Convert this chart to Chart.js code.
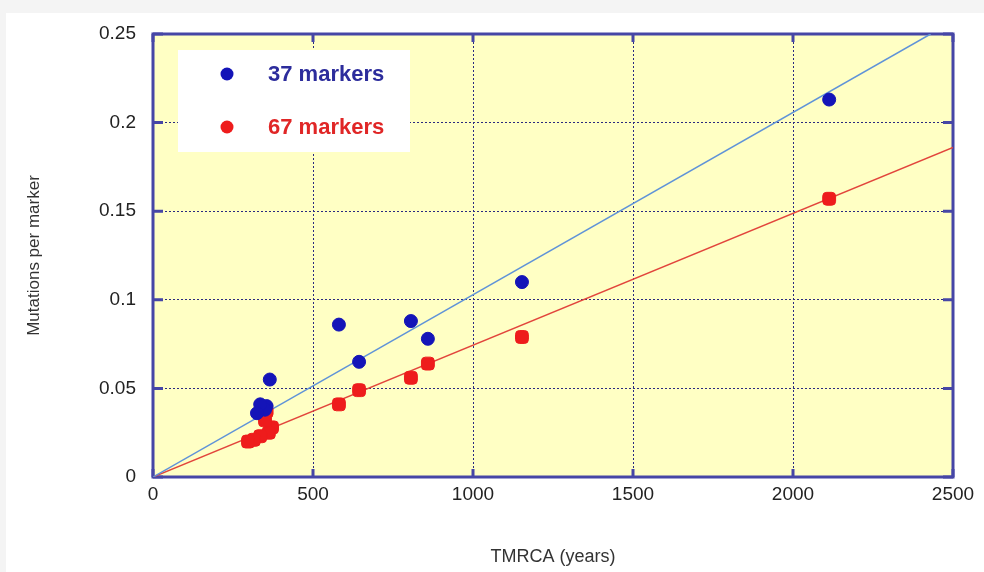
<!DOCTYPE html>
<html>
<head>
<meta charset="utf-8">
<script src="https://cdn.jsdelivr.net/npm/chart.js@4"></script>
<style>
  html, body { margin: 0; padding: 0; background: #ffffff; }
  #wrap { width: 984px; height: 572px; }
</style>
</head>
<body>
<div id="wrap"><canvas id="grafico" width="984" height="572"></canvas></div>
<script>
// values
const x37 = [2113, 1153, 859, 806, 644, 581, 365, 355, 350, 335, 325];
const y37 = [0.213, 0.110, 0.078, 0.088, 0.065, 0.086, 0.055, 0.040, 0.038, 0.041, 0.036];
const x67 = [2113, 1153, 859, 806, 644, 581, 372, 362, 355, 350, 335, 315, 297];
const y67 = [0.157, 0.079, 0.064, 0.056, 0.049, 0.041, 0.028, 0.025, 0.037, 0.032, 0.023, 0.021, 0.020];

// fitted lines (end points)
const fit37X = [0, 2430];
const fit37Y = [0, 0.25];
const fit67X = [0, 2500];
const fit67Y = [0, 0.186];

const xTicks = [0, 500, 1000, 1500, 2000, 2500];
const yTicks = [0, 0.05, 0.1, 0.15, 0.2, 0.25];

const legendLabels = ['37 markers', '67 markers'];

const azul = '#1414b8';
const vermelho = '#ee1c1c';
const moldura = '#4646a6';

function pares(xs, ys) {
  return xs.map((x, i) => ({ x: x, y: ys[i] }));
}

const fundo = {
  id: 'fundo',
  beforeDraw: (chart) => {
    const { ctx, chartArea } = chart;
    ctx.save();
    ctx.fillStyle = '#f4f4f4';
    ctx.fillRect(0, 0, chart.width, chart.height);
    ctx.fillStyle = '#ffffff';
    ctx.fillRect(6, 13, chart.width - 6, chart.height - 13);
    ctx.fillStyle = '#ffffc4';
    ctx.fillRect(chartArea.left, chartArea.top, chartArea.right - chartArea.left, chartArea.bottom - chartArea.top);
    ctx.restore();
  }
};

const moldura_plugin = {
  id: 'moldura',
  beforeDatasetsDraw: (chart) => {
    const { ctx, chartArea, scales } = chart;
    ctx.save();
    ctx.strokeStyle = moldura;
    ctx.lineWidth = 3;
    // inner ticks
    yTicks.forEach(v => {
      const py = scales.y.getPixelForValue(v);
      ctx.beginPath();
      ctx.moveTo(chartArea.left, py); ctx.lineTo(chartArea.left + 10, py);
      ctx.moveTo(chartArea.right, py); ctx.lineTo(chartArea.right - 10, py);
      ctx.stroke();
    });
    xTicks.forEach(v => {
      const px = scales.x.getPixelForValue(v);
      ctx.beginPath();
      ctx.moveTo(px, chartArea.top); ctx.lineTo(px, chartArea.top + 8);
      ctx.moveTo(px, chartArea.bottom); ctx.lineTo(px, chartArea.bottom - 8);
      ctx.stroke();
    });
    ctx.strokeRect(chartArea.left, chartArea.top, chartArea.right - chartArea.left, chartArea.bottom - chartArea.top);
    ctx.restore();
  }
};

const legenda = {
  id: 'legenda',
  afterDraw: (chart) => {
    const { ctx, chartArea } = chart;
    const x0 = chartArea.left + 25, y0 = chartArea.top + 16;
    ctx.save();
    ctx.fillStyle = '#ffffff';
    ctx.fillRect(x0, y0, 232, 102);
    ctx.font = 'bold 22px "Liberation Sans", Arial, sans-serif';
    ctx.textBaseline = 'middle';
    const cores = [azul, vermelho];
    const textos = ['#2c2c9c', '#e02626'];
    legendLabels.forEach((t, i) => {
      const cy = y0 + 24 + i * 53;
      ctx.fillStyle = cores[i];
      ctx.beginPath();
      ctx.arc(x0 + 49, cy, 6.5, 0, Math.PI * 2);
      ctx.fill();
      ctx.fillStyle = textos[i];
      ctx.fillText(t, x0 + 90, cy + 1);
    });
    ctx.restore();
  }
};

const fonte = { family: '"Liberation Sans", Arial, sans-serif', size: 19 };

const myChart = new Chart(document.getElementById('grafico'), {
  type: 'scatter',
  data: {
    datasets: [
      {
        label: legendLabels[0],
        data: pares(x37, y37),
        backgroundColor: azul,
        borderColor: azul,
        pointStyle: 'circle',
        pointRadius: 6.5,
        order: 1
      },
      {
        label: legendLabels[1],
        data: pares(x67, y67),
        backgroundColor: vermelho,
        borderColor: vermelho,
        pointStyle: 'rectRounded',
        pointRadius: 7.5,
        order: 2
      },
      {
        type: 'line',
        label: 'fit 37',
        data: pares(fit37X, fit37Y),
        borderColor: '#5f93d8',
        borderWidth: 1.5,
        pointRadius: 0,
        fill: false,
        order: 3
      },
      {
        type: 'line',
        label: 'fit 67',
        data: pares(fit67X, fit67Y),
        borderColor: '#e2453c',
        borderWidth: 1.5,
        pointRadius: 0,
        fill: false,
        order: 4
      }
    ]
  },
  options: {
    responsive: false,
    animation: false,
    layout: { padding: { top: 34, right: 31, left: 0, bottom: 0 } },
    plugins: {
      legend: { display: false },
      tooltip: { enabled: false }
    },
    scales: {
      x: {
        type: 'linear',
        min: 0,
        max: 2500,
        afterBuildTicks: (s) => { s.ticks = xTicks.map(v => ({ value: v })); },
        afterFit: (s) => { s.height = 95; },
        grid: { color: '#2a2a80', lineWidth: 1, drawTicks: false },
        border: { display: false, dash: [2, 2] },
        ticks: {
          color: '#222222',
          font: fonte,
          padding: 6,
          callback: (v) => String(v)
        },
        title: {
          display: true,
          text: 'TMRCA (years)',
          color: '#333333',
          font: { family: fonte.family, size: 18 },
          padding: { top: 26 }
        }
      },
      y: {
        type: 'linear',
        min: 0,
        max: 0.25,
        afterBuildTicks: (s) => { s.ticks = yTicks.map(v => ({ value: v })); },
        afterFit: (s) => { s.width = 153; },
        grid: { color: '#2a2a80', lineWidth: 1, drawTicks: false },
        border: { display: false, dash: [2, 2] },
        ticks: {
          color: '#222222',
          font: fonte,
          padding: 17,
          callback: (v) => String(parseFloat(v.toFixed(2)))
        },
        title: {
          display: true,
          text: 'Mutations per marker',
          color: '#333333',
          font: { family: fonte.family, size: 17 },
          padding: { top: 24, bottom: 0 }
        }
      }
    }
  },
  plugins: [fundo, moldura_plugin, legenda]
});
</script>
</body>
</html>
